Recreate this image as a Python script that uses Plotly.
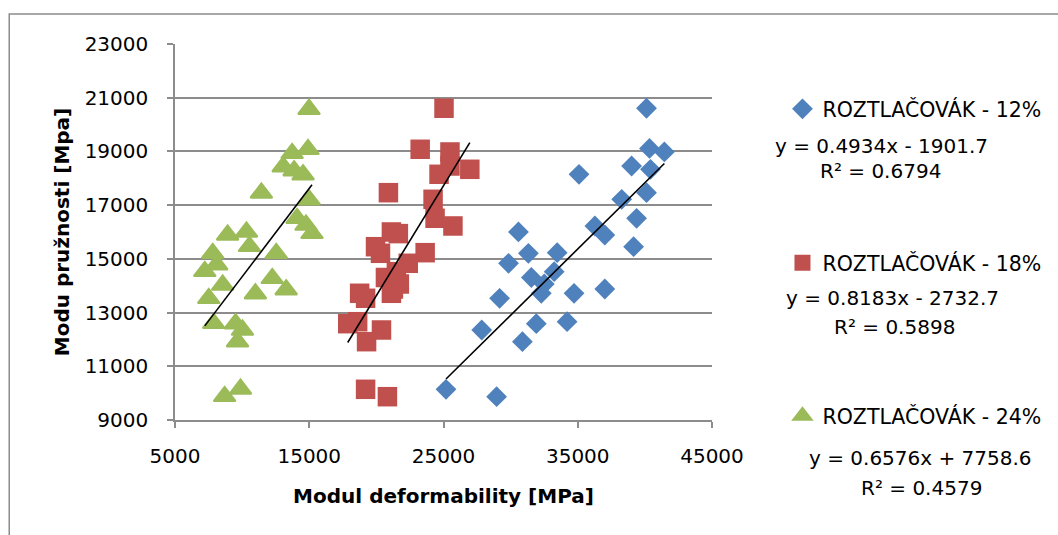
import plotly.graph_objects as go

# ---------------- data ----------------
series_names = ["ROZTLAČOVÁK - 12%", "ROZTLAČOVÁK - 18%", "ROZTLAČOVÁK - 24%"]

x_12 = [40122, 40343, 41452, 39012, 40417, 35094, 40122, 38273, 39382, 36277,
        30583, 37016, 39160, 33467, 31323, 29844, 33245, 31544, 32506, 37016,
        32284, 34724, 29178, 34206, 31914, 27847, 30879, 25186, 28957]
y_12 = [20607, 19110, 18980, 18458, 18335, 18149, 17464, 17218, 16511, 16224,
        16001, 15889, 15453, 15230, 15207, 14835, 14522, 14306, 14064, 13878,
        13718, 13718, 13532, 12660, 12586, 12351, 11916, 10143, 9868]

x_18 = [25038, 23263, 25481, 25481, 26960, 24668, 20897, 24224, 24372, 25703,
        21119, 21637, 19936, 23633, 20306, 22376, 21489, 20675, 21710, 21267,
        21119, 18753, 19196, 18605, 17866, 20380, 19270, 19196, 20823]
y_18 = [20607, 19080, 18980, 18458, 18335, 18149, 17464, 17218, 16511, 16224,
        16001, 15940, 15453, 15230, 15207, 14835, 14522, 14306, 14064, 13878,
        13718, 13718, 13532, 12660, 12586, 12351, 11916, 10143, 9868]

x_24 = [14982, 14908, 13725, 13059, 13873, 14538, 11433, 14982, 14095, 14760,
        10324, 15204, 8919, 10546, 7810, 12542, 8105, 7218, 12246, 8549,
        13281, 10989, 7514, 7884, 9510, 10028, 9658, 9880, 8697]
y_24 = [20570, 19080, 18931, 18432, 18283, 18134, 17453, 17203, 16511, 16261,
        16001, 15952, 15889, 15468, 15207, 15207, 14783, 14537, 14277, 14027,
        13852, 13703, 13532, 12601, 12586, 12351, 11916, 10154, 9883]

slopes = [0.4934, 0.8183, 0.6576]
intercepts = [-1901.7, -2732.7, 7758.6]
r_squared = [0.6794, 0.5898, 0.4579]
equations = ["y = 0.4934x - 1901.7", "y = 0.8183x - 2732.7", "y = 0.6576x + 7758.6"]

x_ticks = [5000, 15000, 25000, 35000, 45000]
y_ticks = [9000, 11000, 13000, 15000, 17000, 19000, 21000, 23000]

# ---------------- style ----------------
colors = ["#4F81BD", "#C0504D", "#9BBB59"]
symbols = ["diamond", "square", "triangle-up"]
sizes = [16, 19.5, 19]
line_w = [0, 0, 2]
FONT = "DejaVu Sans"
GRID = "#8C8C8C"

W, H = 1058, 535
L, R, T, B = 175, 342, 44, 115
pw, ph = W - L - R, H - T - B


def px_x(p):
    return (p - L) / pw


def px_y(p):
    return (H - B - p) / ph


fig = go.Figure()
xs = [x_12, x_18, x_24]
ys = [y_12, y_18, y_24]
legend_ids = ["legend", "legend2", "legend3"]

for i in range(3):
    fig.add_trace(go.Scatter(
        x=xs[i], y=ys[i], mode="markers", name=series_names[i],
        marker=dict(symbol=symbols[i], size=sizes[i], color=colors[i],
                    line=dict(color=colors[i], width=line_w[i])),
        legend=legend_ids[i], showlegend=True,
    ))

for i in range(3):
    x0, x1 = min(xs[i]), max(xs[i])
    fig.add_trace(go.Scatter(
        x=[x0, x1], y=[slopes[i] * x0 + intercepts[i], slopes[i] * x1 + intercepts[i]],
        mode="lines", line=dict(color="black", width=1.6), showlegend=False,
        hoverinfo="skip",
    ))

# legends
legend_y_px = [109, 263, 416]
for i, lid in enumerate(legend_ids):
    fig.update_layout({lid: dict(
        x=px_x(787), xanchor="left", y=px_y(legend_y_px[i]), yanchor="middle",
        font=dict(family=FONT, size=20.5, color="black"),
        bgcolor="rgba(0,0,0,0)", borderwidth=0, itemwidth=30,
    )})

# equations
eq_pos = [(887, 146, 886, 171), (898, 298, 900, 327), (926, 458, 927, 488)]
for i in range(3):
    ex, ey, rx, ry = eq_pos[i]
    fig.add_annotation(x=px_x(ex), y=px_y(ey), xref="paper", yref="paper",
                       xanchor="center", yanchor="middle",
                       text=equations[i], showarrow=False,
                       font=dict(family=FONT, size=20, color="black"))
    fig.add_annotation(x=px_x(rx), y=px_y(ry), xref="paper", yref="paper",
                       xanchor="center", yanchor="middle",
                       text=f"R² = {r_squared[i]}", showarrow=False,
                       font=dict(family=FONT, size=20, color="black"))

# outer chart border (left and top edges visible)
fig.add_shape(type="rect", xref="paper", yref="paper",
              x0=px_x(8), x1=px_x(1070), y0=px_y(545), y1=px_y(14),
              line=dict(color="#8C8C8C", width=1.5), layer="below")

fig.update_xaxes(
    range=[5000, 45000], tickvals=x_ticks, ticktext=[str(v) for v in x_ticks],
    showgrid=False, zeroline=False, showline=True, linecolor=GRID, linewidth=1.5,
    ticks="outside", ticklen=6, tickcolor=GRID, tickwidth=1.5,
    ticklabelstandoff=11,
    tickfont=dict(family=FONT, size=20, color="black"),
    title=dict(text="<b>Modul deformability [MPa]</b>", standoff=22,
               font=dict(family=FONT, size=20, color="black")),
)
fig.update_yaxes(
    range=[9000, 23000], tickvals=y_ticks, ticktext=[str(v) for v in y_ticks],
    showgrid=True, gridcolor=GRID, gridwidth=1.5, zeroline=False,
    showline=True, linecolor=GRID, linewidth=1.5,
    ticks="outside", ticklen=6, tickcolor=GRID, tickwidth=1.5,
    ticklabelstandoff=15,
    tickfont=dict(family=FONT, size=20, color="black"),
    title=dict(text="<b>Modu pružnosti [Mpa]</b>", standoff=10,
               font=dict(family=FONT, size=20, color="black")),
)

fig.update_layout(
    width=W, height=H, margin=dict(l=L, r=R, t=T, b=B),
    paper_bgcolor="white", plot_bgcolor="white",
    font=dict(family=FONT, size=20, color="black"),
)

fig.write_html("out.html")
